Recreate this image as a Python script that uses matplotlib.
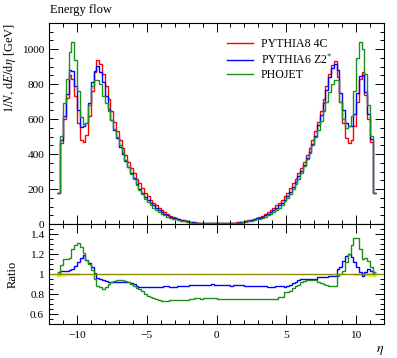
import numpy as np
import matplotlib
matplotlib.use('Agg')
import matplotlib.pyplot as plt
from matplotlib.ticker import MultipleLocator, FuncFormatter

plt.rcParams['font.family'] = ['Liberation Serif', 'DejaVu Serif']
plt.rcParams['mathtext.fontset'] = 'stix'

# ---- data -------------------------------------------------------------
eta_lo, eta_hi, n_bins = -11.4, 11.4, 114
edges = np.linspace(eta_lo, eta_hi, n_bins + 1)

pythia8_4c = [
    175, 465, 600, 720, 850, 830, 730, 580, 480, 470,
    510, 620, 760, 870, 940, 915, 860, 790, 715, 645,
    585, 530, 480, 435, 395, 355, 320, 290, 260, 232,
    205, 180, 160, 140, 122, 106, 92, 79, 67, 57,
    48, 40, 36, 30, 25, 21, 17, 14, 11, 9,
    7.5, 6.5, 5.5, 5.0, 4.6, 4.3, 4.2,
    4.2, 4.3, 4.6, 5.0, 5.5, 6.5, 7.5, 9, 11, 14,
    17, 21, 25, 30, 36, 40, 48, 57, 67, 79,
    92, 106, 122, 140, 160, 180, 205, 232, 260, 290,
    320, 355, 395, 435, 480, 530, 585, 645, 715, 790,
    860, 910, 935, 840, 700, 580, 490, 465, 480, 560,
    700, 830, 870, 740, 600, 470, 175,
]

pythia6_z2 = [
    175, 480, 620, 745, 880, 875, 790, 650, 555, 560,
    580, 690, 810, 875, 905, 870, 810, 735, 660, 595,
    540, 490, 443, 400, 363, 326, 292, 262, 229, 202,
    178, 157, 139, 122, 106, 92, 80, 69, 59, 50,
    42, 35, 31.5, 26.5, 22, 18.5, 15, 12.4, 9.8, 8,
    6.7, 5.8, 4.9, 4.45, 4.1, 3.85, 3.75,
    3.74, 3.83, 4.1, 4.45, 4.9, 5.75, 6.65, 8, 9.75, 12.4,
    15, 18.5, 22, 26.4, 31.7, 35.2, 42.2, 50, 58.6, 69,
    80.5, 93, 107, 123, 140, 159, 182, 210, 240, 273,
    304, 337, 375, 414, 457, 505, 565, 625, 695, 768,
    840, 892, 915, 880, 750, 655, 578, 558, 562, 627,
    749, 847, 853, 755, 630, 485, 175,
]

phojet = [
    178, 505, 690, 830, 985, 1040, 940, 760, 610, 570,
    580, 680, 790, 825, 825, 800, 730, 690, 645, 595,
    545, 500, 452, 410, 368, 327, 288, 255, 224, 197,
    170, 144, 125, 108, 93, 80, 68, 58, 49, 41.6,
    35.3, 29.6, 26.6, 22.2, 18.5, 15.5, 12.6, 10.5, 8.3, 6.8,
    5.7, 4.9, 4.2, 3.8, 3.5, 3.27, 3.2,
    3.15, 3.22, 3.45, 3.75, 4.1, 4.9, 5.6, 6.75, 8.25, 10.5,
    12.7, 15.7, 18.7, 22.4, 27, 30, 36, 42.5, 50, 59,
    69, 80, 94, 108, 131, 148, 170, 200, 229, 258,
    294, 330, 371, 409, 451, 498, 538, 590, 645, 700,
    757, 800, 825, 825, 700, 600, 550, 560, 620, 760,
    950, 1040, 1000, 860, 680, 505, 178,
]

# relative stat. uncertainty of the reference (PYTHIA8 4C), outermost bins
ref_err_outer = [0.03, 0.025, 0.022, 0.02, 0.018, 0.016, 0.015, 0.013,
                 0.012, 0.011, 0.01, 0.009]
ref_err_inner = 0.002

series = [
    ("PYTHIA8 4C", pythia8_4c, "#ff0000"),
    ("PYTHIA6 Z2$^{*}$", pythia6_z2, "#0000ff"),
    ("PHOJET", phojet, "#1a901a"),
]

# ---- figure -----------------------------------------------------------
W, H = 397, 358
fig = plt.figure(figsize=(W / 100, H / 100), dpi=100)
L, R = 49 / W, 384 / W
ax = fig.add_axes([L, 1 - 224 / H, R - L, (224 - 23) / H])
axr = fig.add_axes([L, 1 - 324 / H, R - L, (324 - 224) / H])

lw = 1.0
ref = np.array(pythia8_4c, dtype=float)
for label, vals, col in series:
    ax.stairs(vals, edges, color=col, lw=lw, label=label, baseline=None)

ax.set_xlim(-12, 12)
ax.set_ylim(0, 1150)
ax.yaxis.set_major_locator(MultipleLocator(200))
ax.yaxis.set_minor_locator(MultipleLocator(50))

# ratio panel
err = np.full(n_bins, ref_err_inner)
k = len(ref_err_outer)
err[:k] = ref_err_outer
err[-k:] = ref_err_outer[::-1]
axr.stairs(1 + 0.4 * err, edges, baseline=1 - 1.2 * err, fill=True,
           color='#f6f63a', lw=0)
axr.axhline(1.0, color='#8c8c00', lw=1.0)
for label, vals, col in series[1:]:
    axr.stairs(np.array(vals, dtype=float) / ref, edges, color=col, lw=lw,
               baseline=None)
axr.set_xlim(-12, 12)
axr.set_ylim(0.5, 1.5)
axr.yaxis.set_major_locator(MultipleLocator(0.2))
axr.yaxis.set_minor_locator(MultipleLocator(0.05))
axr.yaxis.set_major_formatter(FuncFormatter(lambda v, p: f"{v:g}"))

for a in (ax, axr):
    a.xaxis.set_major_locator(MultipleLocator(5))
    a.xaxis.set_minor_locator(MultipleLocator(1))
    a.tick_params(which='both', direction='in', top=True, right=True,
                  labelsize=8.2, width=0.7, colors='black')
    a.tick_params(which='major', length=6.5, pad=3.5)
    a.tick_params(which='minor', length=3.2)
    a.tick_params(axis='x', which='major', pad=5)
    for s in a.spines.values():
        s.set_linewidth(0.8)
ax.tick_params(labelbottom=False)

ax.set_ylabel(r'$1/N,\, \mathrm{d}E/\mathrm{d}\eta$ [GeV]', fontsize=9,
              loc='top')
ax.yaxis.set_label_coords(-0.092, 1.0)
axr.set_ylabel('Ratio', fontsize=9)
axr.yaxis.set_label_coords(-0.092, 0.5)
axr.set_xlabel(r'$\eta$', fontsize=10, loc='right')
axr.xaxis.set_label_coords(1.0, -0.2)

fig.text(50 / W, 1 - 13 / H, 'Energy flow', ha='left', va='baseline',
         fontsize=9)

ax.legend(loc='upper left', bbox_to_anchor=(0.531, 0.925), frameon=False,
          fontsize=8.6, handlelength=2.2, handletextpad=0.65,
          labelspacing=0.2, borderpad=0, borderaxespad=0)

fig.savefig('out.png', dpi=100)
